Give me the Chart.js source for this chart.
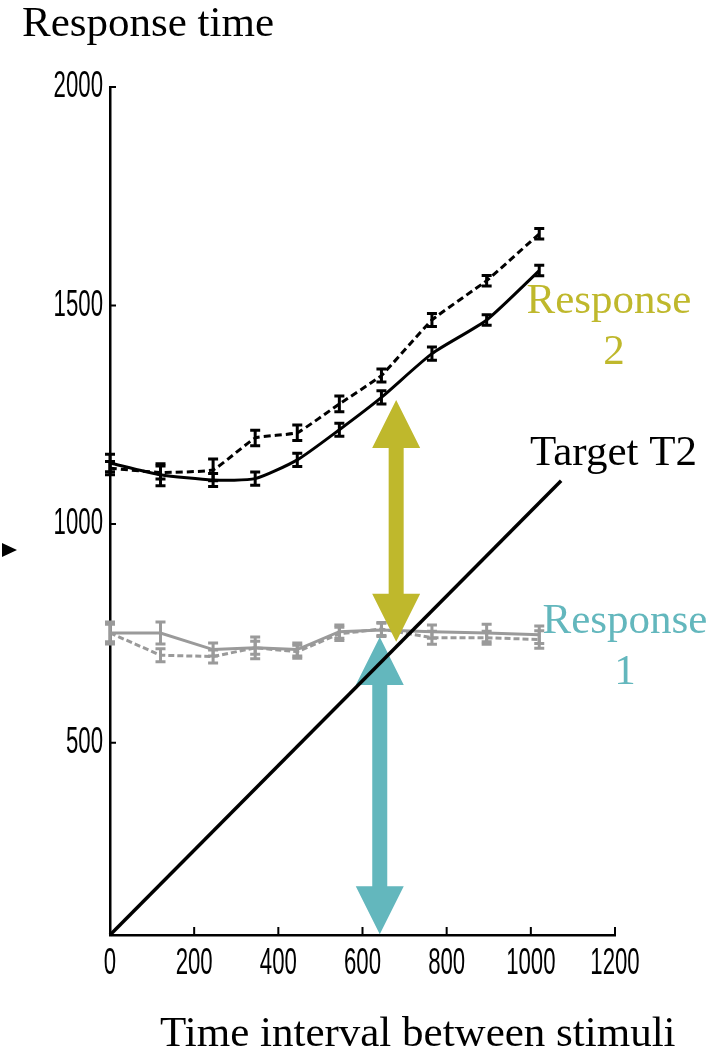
<!DOCTYPE html>
<html>
<head>
<meta charset="utf-8">
<script src="https://cdn.jsdelivr.net/npm/chart.js@4.4.1/dist/chart.umd.min.js"></script>
<style>
  html, body { margin: 0; padding: 0; background: #fff; }
  #wrap { width: 726px; height: 1050px; position: relative; }
</style>
</head>
<body>
<div id="wrap"><canvas id="rtChart" width="726" height="1050"></canvas></div>
<script>
// interval between the two stimuli
const intervals = [0, 120, 245, 345, 445, 545, 645, 765, 895, 1020];
// response 2 (black), two conditions
const r2Solid = [1140, 1113, 1101, 1104, 1147, 1216, 1290, 1390, 1467, 1580];
const r2Dashed = [1128, 1118, 1124, 1197, 1209, 1275, 1340, 1467, 1557, 1664];
// response 1 (grey), two conditions
const r1Solid = [751, 751, 713, 717, 713, 754, 758, 754, 751, 747];
const r1Dashed = [751, 700, 697, 717, 708, 749, 760, 740, 740, 736];
// error bar half heights
const r2SolidErr = [20, 25, 15, 15, 15, 15, 15, 15, 12, 12];
const r2DashedErr = [15, 15, 25, 18, 18, 18, 15, 15, 12, 12];
const r1SolidErr = [25, 25, 15, 15, 15, 15, 15, 15, 20, 20];
const r1DashedErr = [20, 15, 15, 25, 15, 15, 15, 15, 15, 20];
// target T2 onset line
const targetX = [0, 1072];
const targetY = [60, 1099];
// axis ticks
const xTicks = [0, 200, 400, 600, 800, 1000, 1200];
const yTicks = [500, 1000, 1500, 2000];
// double arrows: x, from, to
const arrowR2 = [680, 1284, 731];
const arrowR1 = [641, 742, 62];

const OLIVE = "#bfb82c";
const TEAL = "#63b7bd";
const GREY = "#9a9a9a";
const SERIF = "'Liberation Serif', 'Times New Roman', serif";
const SANS = "'Liberation Sans', Arial, sans-serif";

function pts(xs, ys) {
  return xs.map((x, i) => ({ x: x, y: ys[i] }));
}

const errorsByLabel = {
  "R2 solid": r2SolidErr,
  "R2 dashed": r2DashedErr,
  "R1 solid": r1SolidErr,
  "R1 dashed": r1DashedErr,
};

function drawDoubleArrow(ctx, xs, ys, a, colour) {
  const px = xs.getPixelForValue(a[0]);
  const top = ys.getPixelForValue(a[1]);
  const bot = ys.getPixelForValue(a[2]);
  const head = 48, half = 24, shaft = 7.5;
  ctx.fillStyle = colour;
  ctx.beginPath();
  ctx.moveTo(px, top);
  ctx.lineTo(px + half, top + head);
  ctx.lineTo(px + shaft, top + head);
  ctx.lineTo(px + shaft, bot - head);
  ctx.lineTo(px + half, bot - head);
  ctx.lineTo(px, bot);
  ctx.lineTo(px - half, bot - head);
  ctx.lineTo(px - shaft, bot - head);
  ctx.lineTo(px - shaft, top + head);
  ctx.lineTo(px - half, top + head);
  ctx.closePath();
  ctx.fill();
}

const decorPlugin = {
  id: "decor",
  beforeDatasetDraw(chart, args) {
    // arrows go above the data curves but below the target line
    if (chart.data.datasets[args.index].label !== "Target T2") return;
    const ctx = chart.ctx;
    ctx.save();
    drawDoubleArrow(ctx, chart.scales.x, chart.scales.y, arrowR2, OLIVE);
    drawDoubleArrow(ctx, chart.scales.x, chart.scales.y, arrowR1, TEAL);
    ctx.restore();
  },
  afterDatasetDraw(chart, args) {
    const ds = chart.data.datasets[args.index];
    const errs = errorsByLabel[ds.label];
    if (!errs) return;
    const ctx = chart.ctx;
    const xs = chart.scales.x, ys = chart.scales.y;
    ctx.save();
    ctx.strokeStyle = ds.borderColor;
    ctx.lineWidth = 3;
    ctx.setLineDash([]);
    ds.data.forEach((p, i) => {
      const px = xs.getPixelForValue(p.x);
      const hi = ys.getPixelForValue(p.y + errs[i]);
      const lo = ys.getPixelForValue(p.y - errs[i]);
      ctx.beginPath();
      ctx.moveTo(px, hi); ctx.lineTo(px, lo);
      ctx.moveTo(px - 5, hi); ctx.lineTo(px + 5, hi);
      ctx.moveTo(px - 5, lo); ctx.lineTo(px + 5, lo);
      ctx.stroke();
    });
    ctx.restore();
  },
  afterDraw(chart) {
    const ctx = chart.ctx;
    const xs = chart.scales.x, ys = chart.scales.y;
    const area = chart.chartArea;
    ctx.save();
    // inward tick marks
    ctx.strokeStyle = "#000";
    ctx.lineWidth = 2;
    ctx.beginPath();
    xTicks.forEach((v) => {
      if (v === 0) return;
      const px = xs.getPixelForValue(v);
      ctx.moveTo(px, area.bottom); ctx.lineTo(px, area.bottom - 8);
    });
    yTicks.forEach((v) => {
      const py = ys.getPixelForValue(v);
      ctx.moveTo(area.left, py); ctx.lineTo(area.left + 6, py);
    });
    ctx.stroke();
    // condensed tick labels
    ctx.fillStyle = "#000";
    ctx.font = "37px " + SANS;
    ctx.textBaseline = "middle";
    xTicks.forEach((v) => {
      ctx.save();
      ctx.translate(xs.getPixelForValue(v), 964);
      ctx.scale(0.6, 1);
      ctx.textAlign = "center";
      ctx.fillText(String(v), 0, 0);
      ctx.restore();
    });
    yTicks.forEach((v) => {
      ctx.save();
      ctx.translate(103, ys.getPixelForValue(v));
      ctx.scale(0.6, 1);
      ctx.textAlign = "right";
      ctx.fillText(String(v), 0, 0);
      ctx.restore();
    });
    // little pointer on the left margin
    ctx.beginPath();
    ctx.moveTo(2, 543); ctx.lineTo(17, 550); ctx.lineTo(2, 557);
    ctx.closePath();
    ctx.fill();
    // texts
    ctx.textBaseline = "alphabetic";
    ctx.font = "43px " + SERIF;
    ctx.textAlign = "left";
    ctx.fillStyle = "#000";
    ctx.fillText("Response time", 22, 36);
    ctx.fillText("Target T2", 530, 465);
    ctx.fillText("Time interval between stimuli", 160, 1046);
    ctx.textAlign = "center";
    ctx.fillStyle = OLIVE;
    ctx.fillText("Response", 609, 313);
    ctx.fillText("2", 614, 364);
    ctx.fillStyle = TEAL;
    ctx.fillText("Response", 625, 633);
    ctx.fillText("1", 625, 684);
    ctx.restore();
  },
};

const lineBase = {
  pointRadius: 0,
  borderWidth: 3,
  fill: false,
  clip: false,
};

const config = {
  type: "line",
  data: {
    datasets: [
      { ...lineBase, label: "Target T2", data: pts(targetX, targetY), borderColor: "#000", borderWidth: 3.5, tension: 0, order: 0 },
      { ...lineBase, label: "R2 solid", data: pts(intervals, r2Solid), borderColor: "#000", tension: 0.2, order: 1 },
      { ...lineBase, label: "R2 dashed", data: pts(intervals, r2Dashed), borderColor: "#000", borderDash: [7, 4], tension: 0.1, order: 1 },
      { ...lineBase, label: "R1 solid", data: pts(intervals, r1Solid), borderColor: GREY, tension: 0, order: 2 },
      { ...lineBase, label: "R1 dashed", data: pts(intervals, r1Dashed), borderColor: GREY, borderDash: [6, 3], tension: 0, order: 2 },
    ],
  },
  options: {
    responsive: false,
    animation: false,
    layout: { padding: { left: 110, right: 111, top: 87, bottom: 115 } },
    plugins: { legend: { display: false }, tooltip: { enabled: false } },
    scales: {
      x: {
        type: "linear",
        min: 0,
        max: 1200,
        afterBuildTicks: (scale) => { scale.ticks = xTicks.map((v) => ({ value: v })); },
        ticks: { display: false },
        grid: { display: false, drawTicks: false },
        border: { display: true, color: "#000", width: 2.5 },
      },
      y: {
        type: "linear",
        min: 60,
        max: 2000,
        afterBuildTicks: (scale) => { scale.ticks = yTicks.map((v) => ({ value: v })); },
        ticks: { display: false },
        grid: { display: false, drawTicks: false },
        border: { display: true, color: "#000", width: 2.5 },
      },
    },
  },
  plugins: [decorPlugin],
};

window.onload = function () {
  const ctx = document.getElementById("rtChart").getContext("2d");
  window.rtChart = new Chart(ctx, config);
};
</script>
</body>
</html>
